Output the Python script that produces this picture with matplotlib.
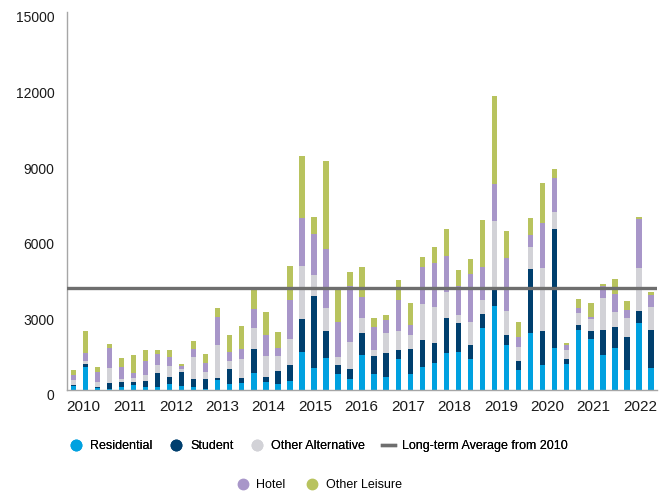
import numpy as np
import matplotlib.pyplot as plt
from matplotlib.lines import Line2D
from matplotlib.transforms import ScaledTranslation

# Quarterly investment volumes, 2010 Q1 - 2022 Q1
years = [str(y) for y in range(2010, 2023)]

residential = [145, 895, 79, 40, 105, 184, 132, 132, 250, 171, 132, 53, 408,
               250, 290, 685, 335, 237, 356, 1501, 869, 1264, 632, 435, 1383,
               632, 514, 1225, 632, 909, 1067, 1462, 1501, 1225, 2450, 3319,
               1778, 790, 2252, 988, 1659, 1027, 2371, 2015, 1383, 1659, 790,
               2647, 869]
student = [40, 118, 26, 224, 198, 118, 237, 553, 277, 553, 316, 395, 79,
           593, 198, 948, 165, 514, 632, 1304, 2845, 1067, 356, 395, 869,
           711, 948, 356, 988, 1067, 790, 1383, 1146, 553, 553, 672,
           395, 356, 2568, 1343, 4741, 198, 198, 316, 988, 830, 1304,
           474, 1501]
other_alt = [224, 145, 198, 619, 145, 184, 237, 316, 435, 118, 869, 277, 1304,
             316, 751, 830, 862, 593, 1027, 2120, 830, 909, 316, 1067, 593,
             237, 790, 751, 553, 1422, 1422, 1027, 316, 909, 580, 2726,
             948, 553, 856, 2529, 672, 356, 474, 474, 1264, 593, 751,
             1738, 909]
hotel = [198, 329, 421, 803, 474, 171, 553, 435, 356, 118, 316, 329, 1106,
         356, 395, 751, 830, 316, 1541, 1910, 1659, 2357, 1383, 2213, 830,
         909, 514, 1225, 395, 1488, 1778, 1462, 1146, 1936, 1304, 1462,
         2134, 395, 474, 1778, 1343, 198, 224, 79, 474, 711, 316,
         1923, 474]
other_leisure = [171, 856, 198, 145, 356, 738, 435, 158, 277, 79, 316, 382, 356,
                 672, 909, 790, 915, 658, 1370, 2436, 672, 3477, 1330, 553, 1212,
                 382, 198, 817, 869, 395, 632, 1054, 672, 580, 1857, 3477,
                 1054, 619, 685, 1580, 356, 79, 329, 553, 79, 593, 356,
                 92, 119]
long_term_avg = 4050

series = [
    ("Residential", residential, "#00a1e0"),
    ("Student", student, "#003f6e"),
    ("Other Alternative", other_alt, "#d2d2d7"),
    ("Hotel", hotel, "#a896c9"),
    ("Other Leisure", other_leisure, "#b8c35e"),
]

plt.rcParams['font.family'] = ['Liberation Sans', 'DejaVu Sans']

fig = plt.figure(figsize=(6.69, 4.96), dpi=100)
ax = fig.add_axes([67 / 669, 106 / 496, 590 / 669, 378 / 496])

x = np.arange(len(residential))
bottom = np.zeros(len(x))
for name, vals, col in series:
    ax.bar(x, vals, width=0.45, bottom=bottom, color=col, label=name)
    bottom += np.array(vals)

ax.axhline(long_term_avg, color="#6e6e6e", lw=2.4, zorder=3)

ax.set_xlim(-0.52, 48.5)
ax.set_ylim(0, 15000)
ax.set_yticks(np.arange(0, 15001, 3000))
ax.set_xticks(np.linspace(0.81, 47.1, len(years)))
ax.set_xticklabels(years)
ax.tick_params(axis='x', length=0, labelsize=11, pad=7, colors="#1a1a1a")
ax.tick_params(axis='y', length=0, labelsize=10, pad=9, colors="#1a1a1a")
for lbl in ax.get_yticklabels():
    lbl.set_transform(lbl.get_transform() + ScaledTranslation(0, -0.05, fig.dpi_scale_trans))

for s in ("top", "right"):
    ax.spines[s].set_visible(False)
for s in ("left", "bottom"):
    ax.spines[s].set_color("#a6a6a6")
    ax.spines[s].set_linewidth(1.0)

def dot(col):
    return Line2D([], [], marker='o', ls='', markersize=7.5, color=col)

legend_font = {'family': ['Liberation Sans', 'DejaVu Sans'], 'size': 9}
row1 = [dot(series[0][2]), dot(series[1][2]), dot(series[2][2]),
        Line2D([], [], color="#6e6e6e", lw=2.4)]
leg1 = fig.legend(row1, ["Residential", "Student", "Other Alternative",
                         "Long-term Average from 2010"],
                  loc='center', bbox_to_anchor=(0.477, 0.101), ncol=4,
                  frameon=False, prop=legend_font, handlelength=1.0,
                  handletextpad=0.6, columnspacing=1.4)
fig.legend([dot(series[3][2]), dot(series[4][2])], ["Hotel", "Other Leisure"],
           loc='center', bbox_to_anchor=(0.477, 0.022), ncol=2,
           frameon=False, prop=legend_font, handlelength=1.0,
           handletextpad=0.6, columnspacing=1.6)
fig.add_artist(leg1)

fig.savefig("out.png", dpi=100)
